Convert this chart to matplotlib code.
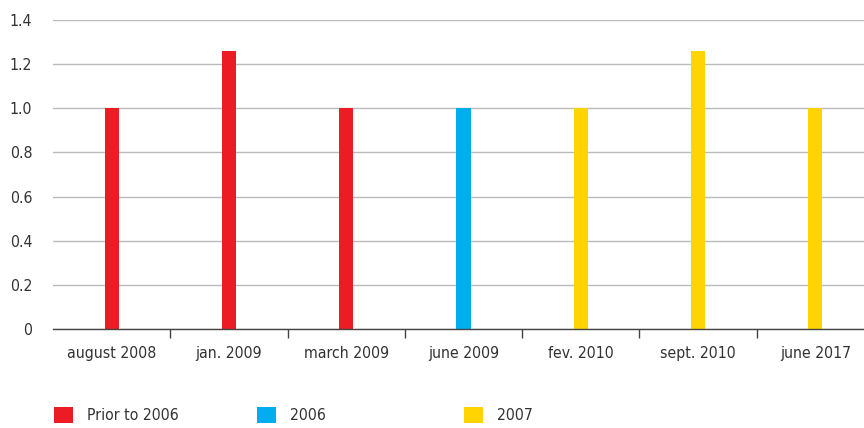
import matplotlib
matplotlib.use("Agg")
import matplotlib.pyplot as plt
from matplotlib import font_manager as fm
import numpy as np

categories = ["august 2008", "jan. 2009", "march 2009", "june 2009",
              "fev. 2010", "sept. 2010", "june 2017"]
prior_2006 = [1.0, 1.26, 1.0, 0, 0, 0, 0]
y2006 = [0, 0, 0, 1.0, 0, 0, 0]
y2007 = [0, 0, 0, 0, 1.0, 1.26, 1.0]
series_names = ["Prior to 2006", "2006", "2007"]
yticks = [0, 0.2, 0.4, 0.6, 0.8, 1.0, 1.2, 1.4]
ytick_labels = ["0", "0.2", "0.4", "0.6", "0.8", "1.0", "1.2", "1.4"]

colors = ["#ED1C24", "#00AEEF", "#FFD400"]
TXT = "#333333"

fp = fm.FontProperties(family="DejaVu Sans", stretch="condensed", size=11.3)

fig = plt.figure(figsize=(8.64, 4.28), dpi=100)
ax = fig.add_axes([53/864, 99/428, 821/864, 309/428])

x = np.arange(len(categories))
handles = []
for vals, c, name in zip([prior_2006, y2006, y2007], colors, series_names):
    v = np.array(vals, dtype=float)
    v[v == 0] = np.nan
    b = ax.bar(x, v, width=0.12, color=c, label=name, zorder=3)
    handles.append(b)

ax.set_xlim(-0.5, len(categories) - 0.5)
ax.set_ylim(0, 1.4)
ax.set_yticks(yticks)
ax.set_yticklabels(ytick_labels, fontproperties=fp, color=TXT)
ax.tick_params(axis="y", length=0, pad=15)
ax.yaxis.grid(True, color="#BBBBBB", linewidth=1.0, zorder=0)
ax.set_axisbelow(True)

ax.set_xticks(x)
ax.set_xticklabels(categories, fontproperties=fp, color=TXT)
ax.tick_params(axis="x", which="major", length=0, pad=12)
ax.set_xticks(np.arange(len(categories) - 1) + 0.5, minor=True)
ax.tick_params(axis="x", which="minor", length=6.5, width=1.0, color="#444444")

for s in ["left", "right", "top"]:
    ax.spines[s].set_visible(False)
ax.spines["bottom"].set_color("#444444")
ax.spines["bottom"].set_linewidth(1.0)
ax.spines["bottom"].set_zorder(4)

leg_x = [54, 257, 464]
for h, name, lx in zip(handles, series_names, leg_x):
    leg = fig.legend(handles=[h], labels=[name], loc="center left",
                     bbox_to_anchor=(lx/864, 1 - 415/428), frameon=False,
                     borderpad=0, borderaxespad=0, handlelength=1.2,
                     handleheight=1.2, handletextpad=0.9, prop=fp)
    for t in leg.get_texts():
        t.set_color(TXT)

fig.savefig("out.png", dpi=100)
